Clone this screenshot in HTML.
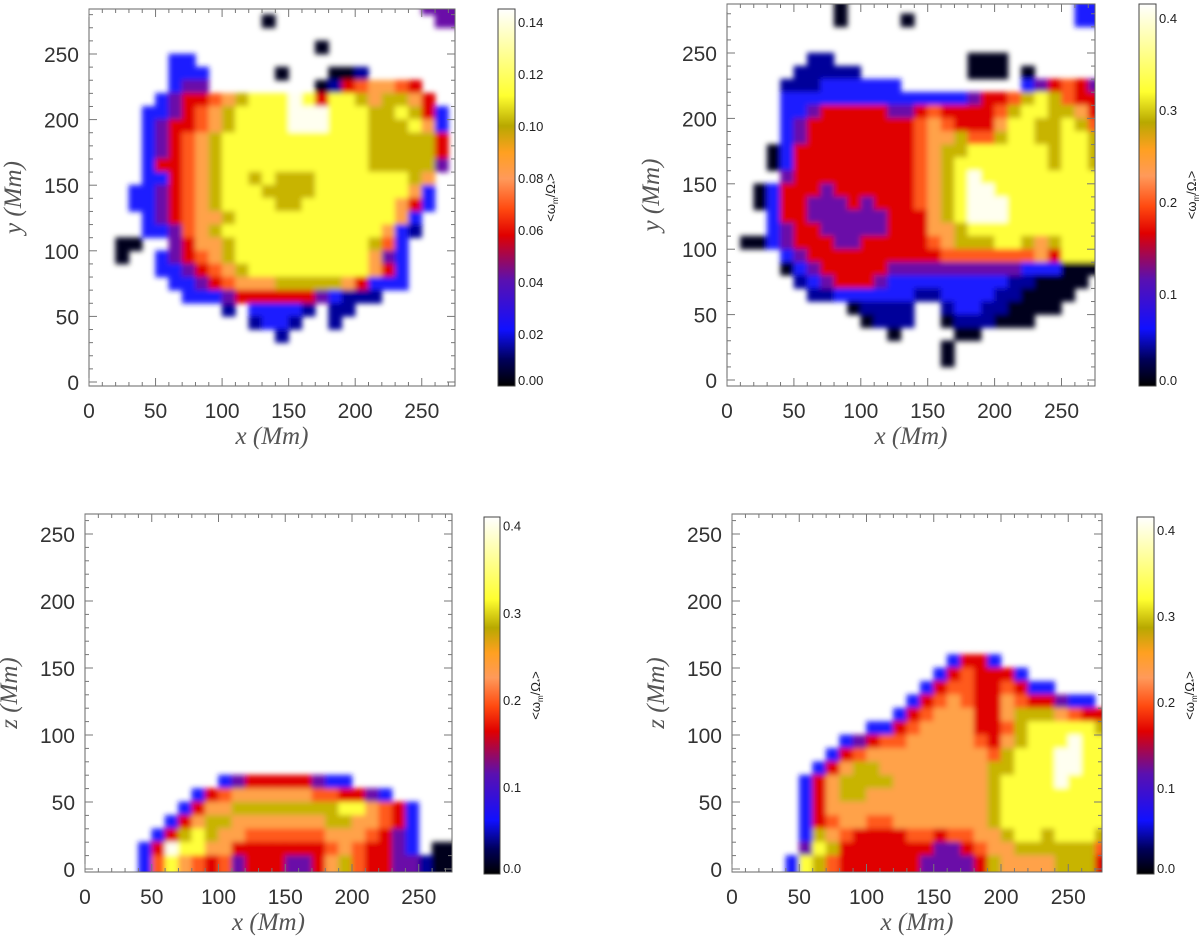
<!DOCTYPE html>
<html><head><meta charset="utf-8"><style>
html,body{margin:0;padding:0;background:#fff;}
svg{display:block;}
.tick{font-family:"Liberation Sans",sans-serif;font-size:21px;fill:#333;}
.cbt{font-family:"Liberation Sans",sans-serif;font-size:13px;fill:#222;}
.ttl{font-family:"Liberation Serif",serif;font-style:italic;font-size:25px;fill:#555;}
</style></head><body>
<svg id="fig" width="1200" height="936" viewBox="0 0 1200 936" xmlns="http://www.w3.org/2000/svg">
<defs>
<filter id="soft" x="-5%" y="-5%" width="110%" height="110%"><feGaussianBlur stdDeviation="2.6"/></filter>
<linearGradient id="cmap" x1="0" y1="1" x2="0" y2="0">
<stop offset="0" stop-color="#000000"/><stop offset="0.07" stop-color="#00005a"/>
<stop offset="0.15" stop-color="#1010ff"/><stop offset="0.28" stop-color="#5a10b0"/>
<stop offset="0.40" stop-color="#e00000"/><stop offset="0.47" stop-color="#ff4a10"/>
<stop offset="0.55" stop-color="#ff9a5a"/><stop offset="0.62" stop-color="#ffa020"/>
<stop offset="0.69" stop-color="#b8a800"/><stop offset="0.77" stop-color="#ffff30"/>
<stop offset="1" stop-color="#ffffff"/>
</linearGradient>
</defs>
</svg>
<script>
// ---- data: colour-level grids (10 Mm cells, rows listed from top to bottom), '.' = no value ----
const levelColors = ['#00001a','#00009a','#1a1aff','#6a10a8','#e00000','#ff5a1e','#ffa24a','#c8b400','#ffff3a','#fffff0'];
const gridTopLeft = [
"....|....|....|....|....|....|.333",
"....|....|....|.0..|....|....|..33",
"....|....|....|....|....|....|....",
"....|....|....|....|.0..|....|....",
"....|..22|....|....|....|....|....",
"....|..22|2...|..0.|..00|1...|....",
"....|..23|3...|....|.014|5665|4...",
"....|.234|4567|8889|8488|7677|64..",
"....|2234|5678|8889|9988|8778|742.",
"....|2344|5678|8889|9988|8777|862.",
"....|2345|6788|8888|8888|8777|774.",
"....|2345|6788|8888|8888|8777|774.",
"....|2445|6788|8888|8888|8777|773.",
"....|2245|6788|7877|7888|8888|76..",
"...2|2345|6788|8777|7888|8888|62..",
"...2|2345|6788|8877|8888|8886|42..",
"....|2345|6678|8888|8888|8886|2...",
"....|2235|6788|8888|8888|8862|1...",
"..00|..34|6678|8888|8888|8752|....",
"..0.|.234|5678|8888|8888|8632|....",
"....|.223|4567|8888|8888|8642|....",
"....|..22|3456|6677|7776|4222|....",
"....|...2|2234|4444|4321|11..|....",
"....|....|..1.|2222|1.11|....|....",
"....|....|....|1221|..1.|....|....",
"....|....|....|..1.|....|....|....",
"....|....|....|....|....|....|....",
"....|....|....|....|....|....|....",
"....|....|....|....|....|....|...."];
const gridTopRight = [
"....|....|0...|....|....|....|..22",
"....|....|0...|.0..|....|....|..22",
"....|....|....|....|....|....|....",
"....|....|....|....|....|....|....",
"....|..11|....|....|..00|0...|....",
"....|.111|11..|....|..00|0.0.|....",
"....|1112|2222|2...|....|..23|4543",
"....|2222|2222|2222|2234|4578|7544",
"....|2234|4444|3345|4444|5788|7764",
"....|2344|4444|4456|5444|6887|7875",
"....|2344|4444|4456|6755|7887|7887",
"...0|2444|4444|4456|7788|8888|7887",
"...0|2444|4444|4456|7888|8888|7887",
"....|3444|4444|4456|7898|8888|8888",
"..02|4443|4444|4456|7899|8888|8888",
"..02|4433|3434|4456|7899|9888|8888",
"...2|4433|3333|4446|7899|9888|8888",
"...2|3443|3333|4446|6788|8888|8888",
".002|3444|3344|4445|6777|8876|7888",
"....|2344|4444|4444|5555|5556|4888",
"....|0234|4444|3333|3333|3322|2000",
"....|.123|4443|2222|2222|2110|000.",
"....|..11|2222|2211|2222|1100|00..",
"....|....|.011|11..|1221|1000|0...",
"....|....|..01|11..|0111|000.|....",
"....|....|....|0...|.00.|....|....",
"....|....|....|....|0...|....|....",
"....|....|....|....|0...|....|....",
"....|....|....|....|....|....|...."];
const gridBottomLeftLower = [
"....|....|..23|4444|4322|....|....",
"....|....|2456|6666|6554|432.|....",
"....|...2|4667|7777|7778|8654|2...",
"....|..24|6776|6666|6677|6654|2...",
"....|.247|8766|5555|5566|6543|2...",
"....|2498|8664|4444|4456|5443|2.00",
"....|2586|5453|4443|3467|5443|3100"];
const gridBottomRightLower = [
"....|....|....|....|2442|....|....",
"....|....|....|...2|4544|42..|....",
"....|....|....|..24|5544|5422|....",
"....|....|....|.245|6544|6544|322.",
"....|....|....|2456|6644|6777|6544",
"....|....|..22|4566|6644|5788|8887",
"....|....|2345|5666|6654|6788|8988",
"....|...2|4566|6666|6665|7888|9988",
"....|..24|6776|6666|6667|7888|9988",
"....|.246|7777|6666|6667|8888|9888",
"....|.246|7766|6666|6667|8888|8888",
"....|.246|6666|6666|6667|8888|8888",
"....|.245|6655|6666|6667|8888|8888",
"....|.276|5444|4554|5566|7887|8887",
"....|.387|4444|4443|3456|6777|7775",
"....|2875|4444|4433|3347|6666|7774"];
const xTicks = [0,50,100,150,200,250];
const yTicks = [0,50,100,150,200,250];
const cbTicksTop = [0,0.02,0.04,0.06,0.08,0.10,0.12,0.14];
const cbTicksOther = [0,0.1,0.2,0.3,0.4];

const NS='http://www.w3.org/2000/svg';
const svg=document.getElementById('fig');
function mk(tag,attrs,parent){const e=document.createElementNS(NS,tag);for(const k in attrs)e.setAttribute(k,attrs[k]);(parent||svg).appendChild(e);return e;}
function pad(rows,total){const out=[];for(let i=0;i<total-rows.length;i++)out.push('');return out.concat(rows);}

function panel(id,grid,yName,box,sx,y0,sy,cb,cbMax,cbTicks,cbDec){
  const g=mk('g',{});
  
  
  const X=v=>box.x0+v*sx, Y=v=>y0-v*sy;
  const cp=mk('clipPath',{id:'clip-'+id},svg.querySelector('defs'));
  mk('rect',{x:box.x0,y:box.y0,width:box.x1-box.x0,height:box.y1-box.y0},cp);
  const hm=mk('g',{'clip-path':'url(#clip-'+id+')'},g);
  
  
  const inner=mk('g',{filter:'url(#soft)'},hm);
  const nR=grid.length;
  grid.forEach((raw,ri)=>{
    const row=raw.replace(/\|/g,'');
    const k=nR-1-ri;
    for(let c=0;c<row.length;c++){
      const ch=row[c]; if(ch==='.')continue;
      const yTopV=(k+1)*10, yBotV=k===0?-6:k*10;
      const xR=c===27?290:(c+1)*10;
      const r=mk('rect',{x:X(c*10)-0.3,y:Y(yTopV)-0.3,width:X(xR)-X(c*10)+0.6,height:Y(yBotV)-Y(yTopV)+0.6,fill:levelColors[+ch]},inner);
      
      
    }
  });
  const frame=mk('rect',{x:box.x0,y:box.y0,width:box.x1-box.x0,height:box.y1-box.y0,fill:'none',stroke:'#666','stroke-width':1},g);
  
  
  for(let v=0;v<=270;v+=10){
    const L=v%50===0?8:4, xx=X(v);
    if(xx>box.x1)break;
    mk('line',{x1:xx,x2:xx,y1:box.y1,y2:box.y1-L,stroke:'#777'},g);
    mk('line',{x1:xx,x2:xx,y1:box.y0,y2:box.y0+L,stroke:'#777'},g);
  }
  for(let v=0;v<=290;v+=10){
    const L=v%50===0?8:4, yy=Y(v);
    if(yy<box.y0)break;
    mk('line',{x1:box.x0,x2:box.x0+L,y1:yy,y2:yy,stroke:'#777'},g);
    mk('line',{x1:box.x1,x2:box.x1-L,y1:yy,y2:yy,stroke:'#777'},g);
  }
  xTicks.forEach(v=>{const t=mk('text',{x:X(v),y:box.y1+32,'text-anchor':'middle',class:'tick'},g);t.textContent=v;
    });
  yTicks.forEach(v=>{const t=mk('text',{x:box.x0-10,y:Y(v)+8,'text-anchor':'end',class:'tick'},g);t.textContent=v;
    });
  const xt=mk('text',{x:(box.x0+box.x1)/2,y:box.y1+58,'text-anchor':'middle',class:'ttl'},g);
  xt.textContent='x (Mm)';
  
  
  const cy=(box.y0+box.y1)/2, cx=box.x0-68;
  const yt=mk('text',{x:cx,y:cy,'text-anchor':'middle',class:'ttl',transform:'rotate(-90 '+cx+' '+cy+')'},g);
  yt.textContent=yName+' (Mm)';
  
  
  const cbr=mk('rect',{x:cb.x,y:cb.y0,width:cb.w,height:cb.y1-cb.y0,fill:'url(#cmap)',stroke:'#444','stroke-width':1},g);
  
  
  cbTicks.forEach(v=>{
    const yy=cb.y1-(v/cbMax)*(cb.y1-cb.y0);
    const t=mk('text',{x:cb.x+cb.w+3,y:Math.min(yy+5,cb.y1-1),class:'cbt'},g);
    t.textContent=v.toFixed(cbDec);
    
    
  });
  const tx=cb.x+cb.w+40, ty=(cb.y0+cb.y1)/2;
  const ct=mk('text',{x:tx,y:ty,'text-anchor':'middle',class:'cbt',transform:'rotate(-90 '+tx+' '+ty+')'},g);
  
  
  ct.innerHTML='&lt;ω<tspan font-size="8" dy="3">m</tspan><tspan dy="-3">/Ω</tspan><tspan font-size="8" dy="3">*</tspan><tspan dy="-3">&gt;</tspan>';
}
panel('panel-top-left',gridTopLeft,'y',{x0:89,x1:455,y0:9,y1:386},1.331,382,1.312,{x:498,w:17,y0:9,y1:386},0.145,cbTicksTop,2);
panel('panel-top-right',gridTopRight,'y',{x0:727,x1:1095,y0:4,y1:386},1.338,380,1.308,{x:1139,w:17,y0:4,y1:386},0.415,cbTicksOther,1);
panel('panel-bottom-left',pad(gridBottomLeftLower,27),'z',{x0:85,x1:452,y0:514,y1:872},1.335,869,1.34,{x:484,w:16,y0:517,y1:874},0.41,cbTicksOther,1);
panel('panel-bottom-right',pad(gridBottomRightLower,27),'z',{x0:732,x1:1102,y0:514,y1:872},1.345,869,1.34,{x:1137,w:17,y0:517,y1:874},0.415,cbTicksOther,1);
</script>
</body></html>
